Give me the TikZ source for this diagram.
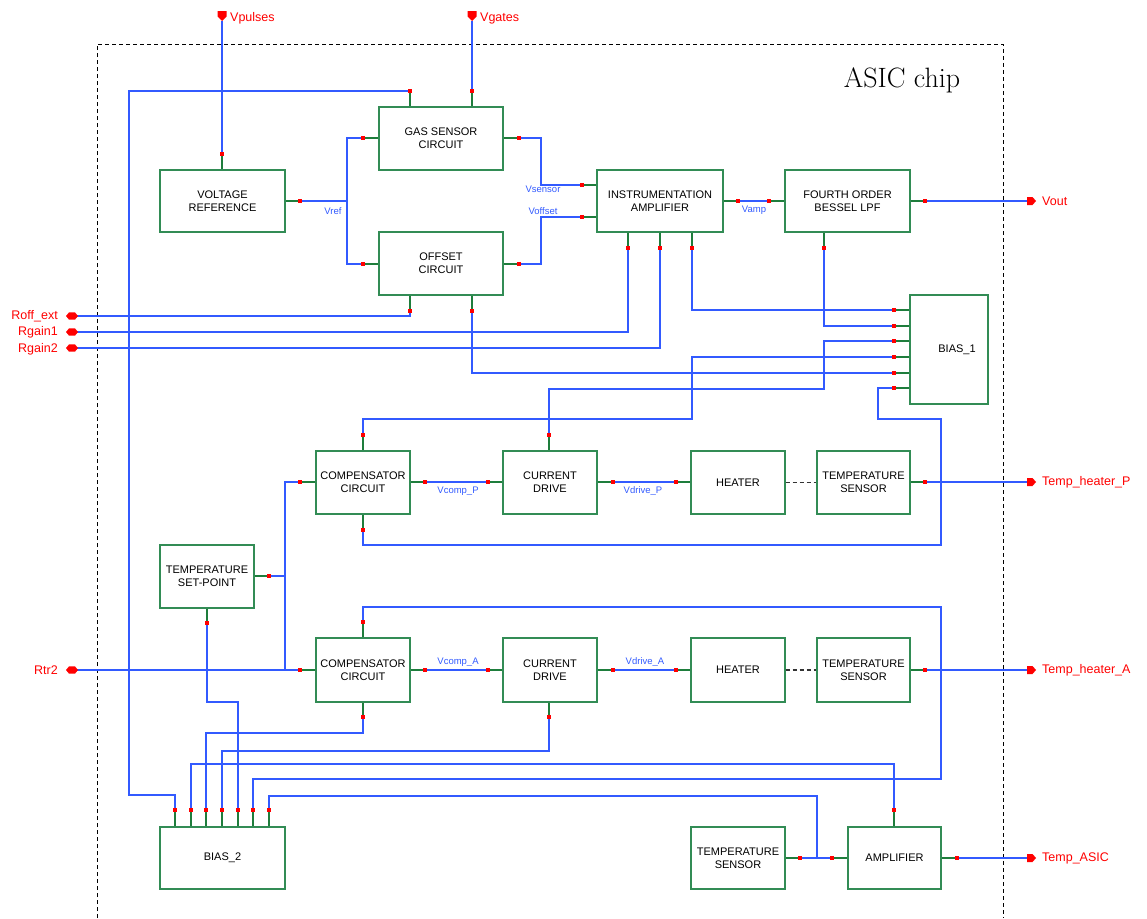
\documentclass[tikz,border=0pt]{standalone}
\usepackage{fontspec}
\newfontfamily\lbl{Liberation Sans}
\usetikzlibrary{calc}
\definecolor{wireblue}{RGB}{50,90,255}
\definecolor{boxgreen}{RGB}{50,140,85}
\definecolor{stubgreen}{RGB}{30,125,60}
\definecolor{portred}{RGB}{255,0,0}
\begin{document}
\begin{tikzpicture}[x=1pt,y=-1pt,
 blk/.style={draw=boxgreen, line width=1.3pt, inner sep=0pt, align=center, font=\lbl\fontsize{11}{12.8}\selectfont, text=black},
 pdot/.style={rectangle, fill=portred, minimum size=4pt, inner sep=0pt, outer sep=0pt},
 wire/.style={draw=wireblue, line width=1.1pt},
 stub/.style={draw=stubgreen, line width=1.1pt},
 netlbl/.style={font=\lbl\fontsize{9.5}{10}\selectfont, text=wireblue, inner sep=0pt},
 portlbl/.style={font=\lbl\fontsize{12.5}{13}\selectfont, text=portred, inner sep=0pt},
 linkdash/.style={draw=black!80, line width=1.1pt, dash pattern=on 4pt off 3pt},
 chipline/.style={draw=black, line width=0.9pt, dash pattern=on 4pt off 3pt},
]
\useasboundingbox (0,0) rectangle (1147,918);

% chip boundary
\draw[chipline] (97,918) -- (97,44) -- (1003,44) -- (1003,918);
\node[font=\fontsize{28}{32}\selectfont, inner sep=0pt] (title) at (902,80) {ASIC chip};

% blocks
\node[blk, minimum width=125pt, minimum height=62pt] (vref) at (222.5,201) {VOLTAGE\\REFERENCE};
\node[blk, minimum width=124pt, minimum height=63pt] (gas) at (441,138.5) {GAS SENSOR\\CIRCUIT};
\node[blk, minimum width=124pt, minimum height=63pt] (off) at (441,263.5) {OFFSET\\CIRCUIT};
\node[blk, minimum width=126pt, minimum height=62pt] (ia) at (660,201) {INSTRUMENTATION\\AMPLIFIER};
\node[blk, minimum width=125pt, minimum height=62pt] (lpf) at (847.5,201) {FOURTH ORDER\\BESSEL LPF};
\node[blk, minimum width=78pt, minimum height=109pt] (bias1) at (949,349.5) {\hspace*{16pt}BIAS\_1};
\node[blk, minimum width=94pt, minimum height=63pt] (compP) at (363,482.5) {COMPENSATOR\\CIRCUIT};
\node[blk, minimum width=94pt, minimum height=63pt] (curP) at (550,482.5) {CURRENT\\DRIVE};
\node[blk, minimum width=94pt, minimum height=63pt] (heatP) at (738,482.5) {HEATER};
\node[blk, minimum width=93pt, minimum height=63pt] (tsP) at (863.5,482.5) {TEMPERATURE\\SENSOR};
\node[blk, minimum width=94pt, minimum height=63pt] (setp) at (207,576.5) {TEMPERATURE\\SET-POINT};
\node[blk, minimum width=94pt, minimum height=64pt] (compA) at (363,670) {COMPENSATOR\\CIRCUIT};
\node[blk, minimum width=94pt, minimum height=64pt] (curA) at (550,670) {CURRENT\\DRIVE};
\node[blk, minimum width=94pt, minimum height=64pt] (heatA) at (738,670) {HEATER};
\node[blk, minimum width=93pt, minimum height=64pt] (tsA) at (863.5,670) {TEMPERATURE\\SENSOR};
\node[blk, minimum width=125pt, minimum height=62pt] (bias2) at (222.5,858) {BIAS\_2};
\node[blk, minimum width=94pt, minimum height=62pt] (tsB) at (738,858) {TEMPERATURE\\SENSOR};
\node[blk, minimum width=93pt, minimum height=62pt] (amp) at (894.5,858) {AMPLIFIER};

% pin points
\coordinate (vrefT) at (222,154); \coordinate (vrefR) at (300,201);
\coordinate (gasT1) at (410,91); \coordinate (gasT2) at (472,91);
\coordinate (gasL) at (363,138); \coordinate (gasR) at (519,138);
\coordinate (offL) at (363,264); \coordinate (offR) at (519,264);
\coordinate (offB1) at (410,311); \coordinate (offB2) at (472,311);
\coordinate (iaL1) at (582,185); \coordinate (iaL2) at (582,217); \coordinate (iaR) at (738,201);
\coordinate (iaB1) at (628,248); \coordinate (iaB2) at (660,248); \coordinate (iaB3) at (692,248);
\coordinate (lpfL) at (769,201); \coordinate (lpfR) at (925,201); \coordinate (lpfB) at (824,248);
\coordinate (bA) at (894,310); \coordinate (bB) at (894,326); \coordinate (bC) at (894,341);
\coordinate (bD) at (894,357); \coordinate (bE) at (894,373); \coordinate (bF) at (894,388);
\coordinate (cpT) at (363,435); \coordinate (cpL) at (300,482); \coordinate (cpR) at (425,482); \coordinate (cpB) at (363,530);
\coordinate (dpL) at (488,482); \coordinate (dpR) at (613,482); \coordinate (dpT) at (549,435);
\coordinate (hpL) at (676,482); \coordinate (tpR) at (925,482);
\coordinate (spR) at (269,576); \coordinate (spB) at (207,623);
\coordinate (caT) at (363,622); \coordinate (caL) at (300,670); \coordinate (caR) at (425,670); \coordinate (caB) at (363,717);
\coordinate (daL) at (488,670); \coordinate (daR) at (613,670); \coordinate (daB) at (549,717);
\coordinate (haL) at (676,670); \coordinate (taR) at (925,670);
\coordinate (b2a) at (175,810); \coordinate (b2b) at (191,810); \coordinate (b2c) at (206,810);
\coordinate (b2d) at (222,810); \coordinate (b2e) at (238,810); \coordinate (b2f) at (253,810); \coordinate (b2g) at (269,810);
\coordinate (tbR) at (800,858); \coordinate (amL) at (832,858); \coordinate (amT) at (894,810); \coordinate (amR) at (957,858);
\coordinate (jB) at (817,858);

% ports
\coordinate (pVpulses) at (222,21); \coordinate (pVgates) at (472,21);
\coordinate (pVout) at (1027,201); \coordinate (pTHP) at (1027,482);
\coordinate (pTHA) at (1027,670); \coordinate (pTA) at (1027,858);
\coordinate (pRoff) at (72,316); \coordinate (pRg1) at (72,332);
\coordinate (pRg2) at (72,348); \coordinate (pRtr2) at (72,670);

% stubs
\foreach \d/\b/\s in {vrefT/vref/north, gasT1/gas/north, gasT2/gas/north, offB1/off/south, offB2/off/south,
  iaB1/ia/south, iaB2/ia/south, iaB3/ia/south, lpfB/lpf/south, cpT/compP/north, cpB/compP/south,
  dpT/curP/north, spB/setp/south, caT/compA/north, caB/compA/south, daB/curA/south,
  b2a/bias2/north, b2b/bias2/north, b2c/bias2/north, b2d/bias2/north, b2e/bias2/north, b2f/bias2/north, b2g/bias2/north,
  amT/amp/north}
  \draw[stub] (\d) -- (\d |- \b.\s);
\foreach \d/\b/\s in {vrefR/vref/east, gasL/gas/west, gasR/gas/east, offL/off/west, offR/off/east,
  iaL1/ia/west, iaL2/ia/west, iaR/ia/east, lpfL/lpf/west, lpfR/lpf/east,
  bA/bias1/west, bB/bias1/west, bC/bias1/west, bD/bias1/west, bE/bias1/west, bF/bias1/west,
  cpL/compP/west, cpR/compP/east, dpL/curP/west, dpR/curP/east, hpL/heatP/west, tpR/tsP/east,
  spR/setp/east, caL/compA/west, caR/compA/east, daL/curA/west, daR/curA/east, haL/heatA/west, taR/tsA/east,
  tbR/tsB/east, amL/amp/west, amR/amp/east}
  \draw[stub] (\d) -- (\d -| \b.\s);

% wires
\draw[wire] (pVpulses) -- (vrefT);
\draw[wire] (pVgates) -- (gasT2);
\draw[wire] (gasT1) -- (129,91) -- (129,795) -- (175,795) -- (b2a);
\draw[wire] (vrefR) -- (347,201);
\draw[wire] (gasL) -- (347,138) -- (347,264) -- (offL);
\draw[wire] (gasR) -- (541,138) -- (541,185) -- (iaL1);
\draw[wire] (offR) -- (541,264) -- (541,217) -- (iaL2);
\draw[wire] (iaR) -- (lpfL);
\draw[wire] (lpfR) -- (pVout);
\draw[wire] (pRoff) -- (410,316) -- (offB1);
\draw[wire] (pRg1) -- (628,332) -- (iaB1);
\draw[wire] (pRg2) -- (660,348) -- (iaB2);
\draw[wire] (iaB3) -- (692,310) -- (bA);
\draw[wire] (lpfB) -- (824,326) -- (bB);
\draw[wire] (bC) -- (824,341) -- (824,389) -- (549,389) -- (dpT);
\draw[wire] (bD) -- (692,357) -- (692,419) -- (363,419) -- (cpT);
\draw[wire] (offB2) -- (472,373) -- (bE);
\draw[wire] (bF) -- (878,388) -- (878,419) -- (941,419) -- (941,545) -- (363,545) -- (cpB);
\draw[wire] (cpL) -- (285,482) -- (285,670);
\draw[wire] (spR) -- (285,576);
\draw[wire] (pRtr2) -- (caL);
\draw[wire] (cpR) -- (dpL);
\draw[wire] (dpR) -- (hpL);
\draw[wire] (tpR) -- (pTHP);
\draw[wire] (caR) -- (daL);
\draw[wire] (daR) -- (haL);
\draw[wire] (taR) -- (pTHA);
\draw[wire] (caT) -- (363,607) -- (941,607) -- (941,779) -- (253,779) -- (b2f);
\draw[wire] (caB) -- (363,733) -- (206,733) -- (b2c);
\draw[wire] (daB) -- (549,751) -- (222,751) -- (b2d);
\draw[wire] (spB) -- (207,702) -- (238,702) -- (b2e);
\draw[wire] (amT) -- (894,764) -- (191,764) -- (b2b);
\draw[wire] (tbR) -- (amL);
\draw[wire] (jB) -- (817,796) -- (269,796) -- (b2g);
\draw[wire] (amR) -- (pTA);
\draw[linkdash] (heatP.east) -- (tsP.west);
\draw[linkdash] (heatA.east) -- (tsA.west);

% red pin dots
\foreach \d in {vrefT,vrefR,gasT1,gasT2,gasL,gasR,offL,offR,offB1,offB2,iaL1,iaL2,iaR,iaB1,iaB2,iaB3,
  lpfL,lpfR,lpfB,bA,bB,bC,bD,bE,bF,cpT,cpL,cpR,cpB,dpL,dpR,dpT,hpL,tpR,spR,spB,caT,caL,caR,caB,
  daL,daR,daB,haL,taR,b2a,b2b,b2c,b2d,b2e,b2f,b2g,tbR,amL,amT,amR}
  \node[pdot] (\d-m) at (\d) {};

% port markers
\foreach \p in {pVpulses,pVgates}
  \fill[portred, shift={(\p)}] (-4.5,-10) -- (4.5,-10) -- (4.5,-4.5) -- (0,0) -- (-4.5,-4.5) -- cycle;
\foreach \p in {pVout,pTHP,pTHA,pTA}
  \fill[portred, shift={(\p)}] (0,-4) -- (5.5,-4) -- (9,0) -- (5.5,4) -- (0,4) -- cycle;
\foreach \p in {pRoff,pRg1,pRg2,pRtr2}
  \fill[portred, shift={(\p)}] (-6,0) -- (-3,-3.6) -- (3,-3.6) -- (6,0) -- (3,3.6) -- (-3,3.6) -- cycle;

% port labels
\node[portlbl, anchor=west] (lVpulses) at (230,18) {Vpulses};
\node[portlbl, anchor=west] (lVgates) at (480,18) {Vgates};
\node[portlbl, anchor=west] (lVout) at (1042,201) {Vout};
\node[portlbl, anchor=west] (lTHP) at (1042,482) {Temp\_heater\_P};
\node[portlbl, anchor=west] (lTHA) at (1042,670) {Temp\_heater\_A};
\node[portlbl, anchor=west] (lTA) at (1042,858) {Temp\_ASIC};
\node[portlbl, anchor=east] (lRoff) at (58,316) {Roff\_ext};
\node[portlbl, anchor=east] (lRg1) at (58,332) {Rgain1};
\node[portlbl, anchor=east] (lRg2) at (58,349) {Rgain2};
\node[portlbl, anchor=east] (lRtr2) at (58,670) {Rtr2};

% net labels
\node[netlbl] (nVref) at (333,211) {Vref};
\node[netlbl] (nVsensor) at (543,189) {Vsensor};
\node[netlbl] (nVoffset) at (543,211) {Voffset};
\node[netlbl] (nVamp) at (754,210) {Vamp};
\node[netlbl] (nVcompP) at (458,491) {Vcomp\_P};
\node[netlbl] (nVdriveP) at (643,491) {Vdrive\_P};
\node[netlbl] (nVcompA) at (458,662) {Vcomp\_A};
\node[netlbl] (nVdriveA) at (645,662) {Vdrive\_A};
\end{tikzpicture}
\end{document}
